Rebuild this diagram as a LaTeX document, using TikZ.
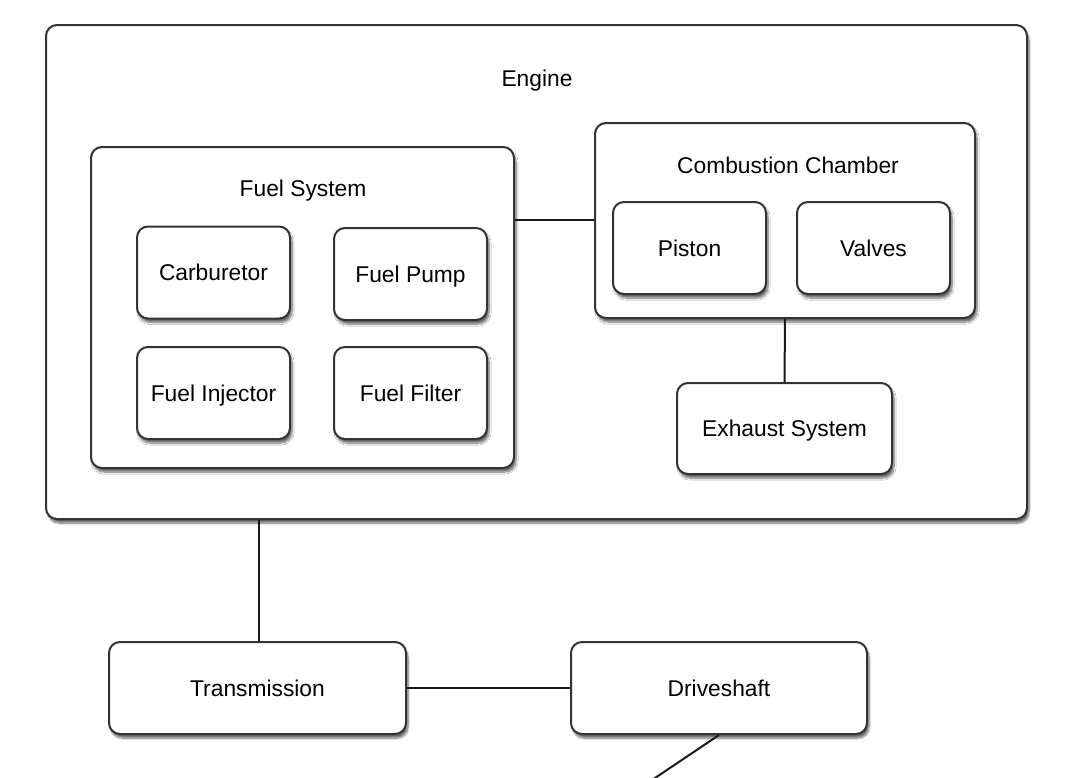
\documentclass[tikz,border=0pt]{standalone}
\usepackage{fontspec}
\setmainfont{Liberation Sans}
\usetikzlibrary{shadows.blur}
\definecolor{bordc}{HTML}{333333}
\tikzset{
  txt/.style={font=\fontsize{22.8}{27}\selectfont, text height=16.4pt, text depth=0pt},
  box/.style={draw=bordc, line width=2pt, rounded corners=11pt, fill=white,
    blur shadow={shadow xshift=2pt, shadow yshift=-4pt, shadow blur steps=8, shadow blur extra rounding=3pt, shadow opacity=60},
    inner sep=0pt, txt},
  lbl/.style={txt, inner sep=0pt},
  conn/.style={draw=black!90, line width=2pt}
}
\begin{document}
\begin{tikzpicture}[x=1pt,y=-1pt]
\useasboundingbox (0,0) rectangle (1075,777);
\clip (0,0) rectangle (1075,777);
% containers
\node[box, minimum width=981pt, minimum height=494pt] (eng) at (536.5,272) {};
\node[lbl] (engl) at (537,78) {Engine};
\node[box, minimum width=423pt, minimum height=321pt] (fuel) at (302.5,307.5) {};
\node[lbl] (fuell) at (303,188) {Fuel System};
\node[box, minimum width=380pt, minimum height=195pt] (comb) at (785,220.5) {};
\node[lbl] (combl) at (788,165) {Combustion Chamber};
% fuel components
\node[box, minimum width=153pt, minimum height=92pt] (carb) at (213.5,272.5) {Carburetor};
\node[box, minimum width=153pt, minimum height=92pt] (pump) at (410.5,274) {Fuel Pump};
\node[box, minimum width=153pt, minimum height=92pt] (inj) at (213.5,393) {Fuel Injector};
\node[box, minimum width=153pt, minimum height=92pt] (filt) at (410.5,393) {Fuel Filter};
% combustion components
\node[box, minimum width=153pt, minimum height=92pt] (pist) at (689.5,248) {Piston};
\node[box, minimum width=153pt, minimum height=92pt] (valv) at (873.5,248) {Valves};
% exhaust
\node[box, minimum width=215pt, minimum height=91pt] (exh) at (784.5,428.5) {Exhaust System};
% drivetrain
\node[box, minimum width=297pt, minimum height=92pt] (trans) at (257.5,688) {Transmission};
\node[box, minimum width=296pt, minimum height=92pt] (drive) at (719,688) {Driveshaft};
\coordinate (dsend) at (652,780);
% connectors
\draw[conn] (fuel.east |- 0,220) -- (comb.west |- 0,220);
\draw[conn] (comb.south) -- (exh.north);
\draw[conn] (eng.south -| 259,0) -- (trans.north -| 259,0);
\draw[conn] (trans.east) -- (drive.west);
\draw[conn] (drive.south) -- (dsend);
\end{tikzpicture}
\end{document}
